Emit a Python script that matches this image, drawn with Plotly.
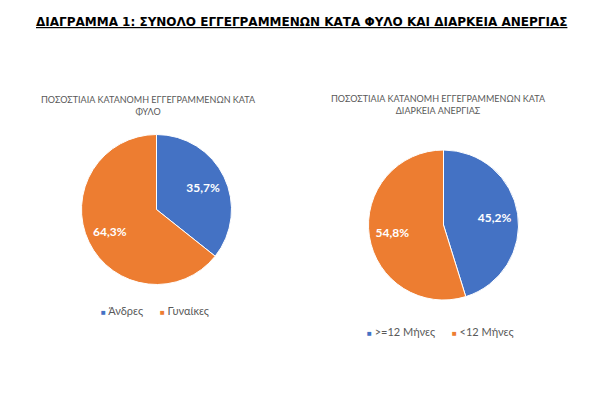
import plotly.graph_objects as go

W, H = 604, 394
OFF = 8  # default page body margin in the browser

title_main = "ΔΙΑΓΡΑΜΜΑ 1: ΣΥΝΟΛΟ ΕΓΓΕΓΡΑΜΜΕΝΩΝ ΚΑΤΑ ΦΥΛΟ ΚΑΙ ΔΙΑΡΚΕΙΑ ΑΝΕΡΓΙΑΣ"
title_sex = "ΠΟΣΟΣΤΙΑΙΑ ΚΑΤΑΝΟΜΗ ΕΓΓΕΓΡΑΜΜΕΝΩΝ ΚΑΤΑ<br>ΦΥΛΟ"
title_dur = "ΠΟΣΟΣΤΙΑΙΑ ΚΑΤΑΝΟΜΗ ΕΓΓΕΓΡΑΜΜΕΝΩΝ ΚΑΤΑ<br>ΔΙΑΡΚΕΙΑ ΑΝΕΡΓΙΑΣ"

sex_labels = ["Άνδρες", "Γυναίκες"]
sex_values = [35.7, 64.3]
dur_labels = [">=12 Μήνες", "<12 Μήνες"]
dur_values = [45.2, 54.8]

colors = ["#4472C4", "#ED7D31"]
gray = "#595959"
sub_font = "Lato, 'Open Sans', sans-serif"


def px(x):
    return (x - OFF) / W


def py(y):
    return 1 - (y - OFF) / H


def dom(cx, cy, r):
    return dict(x=[px(cx - r), px(cx + r)], y=[py(cy + r), py(cy - r)])


def add_pie(labels, values, domain):
    # full pie with slices
    fig.add_trace(go.Pie(
        labels=labels, values=values, sort=False, direction="clockwise", rotation=0,
        marker=dict(colors=colors, line=dict(color="white", width=1)),
        textinfo="none", domain=domain, showlegend=False, hoverinfo="label+percent",
    ))
    # transparent ring carrying the data labels (places them mid-radius)
    fig.add_trace(go.Pie(
        labels=labels, values=values, sort=False, direction="clockwise", rotation=0,
        hole=0.38,
        marker=dict(colors=["rgba(0,0,0,0)"] * len(values), line=dict(width=0)),
        texttemplate="<b>%{percent:.1%}</b>", textposition="inside",
        insidetextorientation="horizontal",
        textfont=dict(color="white", size=12, family=sub_font),
        domain=domain, showlegend=False, hoverinfo="skip",
    ))


def legend_text(labels):
    parts = []
    for lab, col in zip(labels, colors):
        parts.append("<span style='color:%s;font-size:8px'>■</span> %s" % (col, lab))
    return ("&nbsp;" * 6).join(parts)


fig = go.Figure()
add_pie(sex_labels, sex_values, dom(156.5, 209.5, 75))
add_pie(dur_labels, dur_values, dom(443.5, 225, 75))

fig.update_layout(
    width=W, height=H, margin=dict(l=0, r=0, t=0, b=0),
    paper_bgcolor="white", plot_bgcolor="white",
    separators=",.",
    showlegend=False,
    annotations=[
        dict(text="<b><u>" + title_main + "</u></b>", x=px(301), y=py(22),
             xref="paper", yref="paper", showarrow=False, xanchor="center", yanchor="middle",
             font=dict(size=12, color="black", family="DejaVu Sans")),
        dict(text=title_sex, x=px(148), y=py(105.5),
             xref="paper", yref="paper", showarrow=False, xanchor="center", yanchor="middle",
             font=dict(size=9, color=gray, family=sub_font)),
        dict(text=title_dur, x=px(438), y=py(104),
             xref="paper", yref="paper", showarrow=False, xanchor="center", yanchor="middle",
             font=dict(size=9, color=gray, family=sub_font)),
        dict(text=legend_text(sex_labels), x=px(155), y=py(310),
             xref="paper", yref="paper", showarrow=False, xanchor="center", yanchor="middle",
             font=dict(size=11, color=gray, family=sub_font)),
        dict(text=legend_text(dur_labels), x=px(440), y=py(331),
             xref="paper", yref="paper", showarrow=False, xanchor="center", yanchor="middle",
             font=dict(size=11, color=gray, family=sub_font)),
    ],
)

fig.write_html("out.html")
